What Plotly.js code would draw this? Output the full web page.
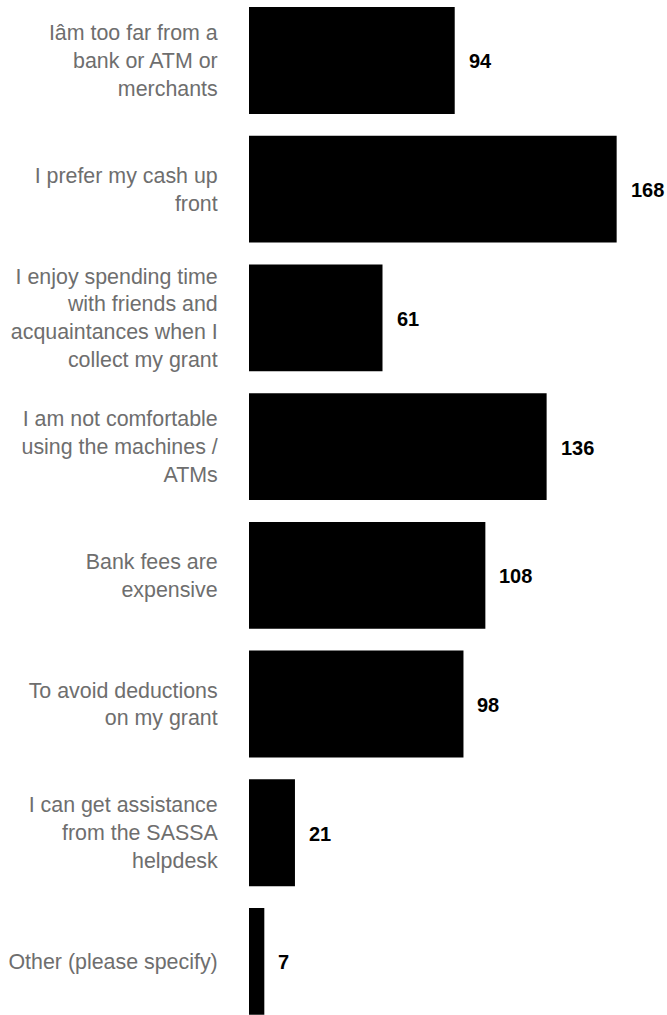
<!DOCTYPE html>
<html>
<head>
<meta charset="utf-8">
<script src="https://cdn.plot.ly/plotly-3.0.1.min.js"></script>
<style>html,body{margin:0;padding:0;background:#fff;}#chart{width:667px;height:1015px;}</style>
</head>
<body>
<div id="chart"></div>
<script>
const categories = [
  "Iâm too far from a<br>bank or ATM or<br>merchants",
  "I prefer my cash up<br>front",
  "I enjoy spending time<br>with friends and<br>acquaintances when I<br>collect my grant",
  "I am not comfortable<br>using the machines /<br>ATMs",
  "Bank fees are<br>expensive",
  "To avoid deductions<br>on my grant",
  "I can get assistance<br>from the SASSA<br>helpdesk",
  "Other (please specify)"
];
const values = [94, 168, 61, 136, 108, 98, 21, 7];

const trace = {
  type: 'bar',
  orientation: 'h',
  x: values,
  y: categories,
  marker: {color: '#000000'},
  hoverinfo: 'skip'
};

const annotations = values.map((v, i) => ({
  x: v, y: categories[i], xref: 'x', yref: 'y',
  text: String(v), showarrow: false, xanchor: 'left', yanchor: 'middle',
  xshift: 12, yshift: -1,
  font: {family: 'Liberation Sans, Arial, sans-serif', size: 20, color: '#000', weight: 'bold'}
}));

const layout = {
  width: 667, height: 1015,
  margin: {l: 249, r: 0, t: 0, b: 0, pad: 0},
  paper_bgcolor: '#fff', plot_bgcolor: '#fff',
  showlegend: false,
  bargap: 0.17,
  font: {family: 'Liberation Sans, Arial, sans-serif'},
  xaxis: {range: [0, 191], visible: false, fixedrange: true},
  yaxis: {
    type: 'category', categoryorder: 'array', categoryarray: categories,
    range: [7.416, -0.47],
    showgrid: false, zeroline: false, showline: false,
    ticks: 'outside', ticklen: 26, tickcolor: 'rgba(0,0,0,0)',
    tickfont: {family: 'Liberation Sans, Arial, sans-serif', size: 21.4, color: '#6e6e6e'},
    automargin: false
  },
  annotations: annotations
};

Plotly.newPlot('chart', [trace], layout, {displayModeBar: false, staticPlot: true});
</script>
</body>
</html>
